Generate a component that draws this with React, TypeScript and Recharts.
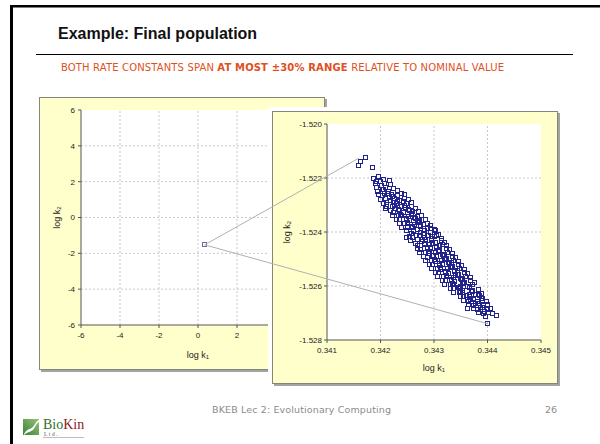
import React from 'react';
import { ScatterChart, Scatter, XAxis, YAxis, CartesianGrid, ReferenceLine, Label } from 'recharts';

// final population of the evolutionary search, [log k1, log k2]
const finalPopulation: [number, number][] = [
  [0.34159, -1.52154], [0.34163, -1.5214], [0.34172, -1.52127], [0.34186, -1.52164],
  [0.34188, -1.52202], [0.34197, -1.52197], [0.34206, -1.52208], [0.34193, -1.52214],
  [0.34191, -1.52221], [0.342, -1.52216], [0.34209, -1.52224], [0.34217, -1.52212], [0.34203, -1.52229],
  [0.34193, -1.52236], [0.34202, -1.52231], [0.34211, -1.52238], [0.3422, -1.52227], [0.34206, -1.52244], [0.34226, -1.5224],
  [0.34195, -1.52251], [0.34205, -1.52246], [0.34215, -1.52253], [0.34225, -1.52242], [0.34233, -1.52249], [0.34209, -1.52258], [0.34221, -1.52262],
  [0.34197, -1.52264], [0.34205, -1.52268], [0.34214, -1.52261], [0.34223, -1.5227], [0.34232, -1.52265], [0.3424, -1.52258], [0.34246, -1.52262], [0.34218, -1.52275],
  [0.34201, -1.52283], [0.3421, -1.52279], [0.34219, -1.52286], [0.34228, -1.52278], [0.34237, -1.52284], [0.34246, -1.52276], [0.34253, -1.52281], [0.34232, -1.5229],
  [0.34206, -1.52296], [0.34213, -1.52299], [0.34225, -1.52292], [0.34231, -1.52295], [0.34243, -1.5229], [0.34249, -1.52297], [0.34259, -1.52293], [0.34228, -1.52304], [0.34245, -1.52302],
  [0.34212, -1.52309],
  [0.34211, -1.52313], [0.34223, -1.52308], [0.34229, -1.52315], [0.34241, -1.52309], [0.34247, -1.52312], [0.34258, -1.52306], [0.34266, -1.52314], [0.34234, -1.5232], [0.34254, -1.52318],
  [0.34219, -1.52324], [0.34225, -1.52328], [0.34237, -1.52323], [0.34243, -1.5233], [0.34255, -1.52321], [0.34261, -1.52327], [0.34272, -1.52326], [0.34239, -1.52336], [0.34259, -1.52333],
  [0.34223, -1.52341], [0.34235, -1.52342], [0.34241, -1.52339], [0.34253, -1.52345], [0.34259, -1.52336], [0.34271, -1.52343], [0.34277, -1.52342], [0.34249, -1.52352], [0.34264, -1.52349],
  [0.3423, -1.52356], [0.34237, -1.52357], [0.34249, -1.52354], [0.34255, -1.52361], [0.34267, -1.52351], [0.34273, -1.52358], [0.34285, -1.52357], [0.34251, -1.52367], [0.34272, -1.52364],
  [0.34236, -1.52371], [0.34246, -1.52372], [0.34252, -1.52369], [0.34264, -1.52375], [0.3427, -1.52366], [0.34282, -1.52373], [0.34288, -1.52372], [0.3426, -1.52382], [0.34275, -1.52379], [0.34295, -1.52376],
  [0.3424, -1.52386], [0.34252, -1.52387], [0.34258, -1.52385], [0.3427, -1.52392], [0.34276, -1.52383], [0.34288, -1.52389], [0.34294, -1.52388], [0.34263, -1.52398], [0.34284, -1.52395], [0.34301, -1.52391],
  [0.34249, -1.52397], [0.34259, -1.52406], [0.34263, -1.52399], [0.34276, -1.52402], [0.34281, -1.52409], [0.34294, -1.52403], [0.34303, -1.52398], [0.34268, -1.52413], [0.3429, -1.52415], [0.34309, -1.52411],
  [0.3425, -1.52423],
  [0.34255, -1.52417], [0.34261, -1.52421], [0.34274, -1.52414], [0.34283, -1.52424], [0.34288, -1.52416], [0.34301, -1.52419], [0.34306, -1.52414], [0.34279, -1.52428], [0.34296, -1.52425], [0.34315, -1.52427],
  [0.34257, -1.52432], [0.3427, -1.52431], [0.34278, -1.52437], [0.34285, -1.52429], [0.34297, -1.52433], [0.34303, -1.52439], [0.34315, -1.52433], [0.34284, -1.52443], [0.34299, -1.52445], [0.3432, -1.52441],
  [0.34266, -1.52446], [0.34271, -1.52452], [0.34283, -1.52447], [0.34293, -1.52448], [0.34299, -1.52443], [0.34311, -1.52453], [0.34317, -1.52449], [0.34289, -1.52458], [0.34306, -1.52455], [0.34325, -1.52452],
  [0.3427, -1.52462], [0.34276, -1.52467], [0.34288, -1.52461], [0.34294, -1.52463], [0.34306, -1.52458], [0.34312, -1.52469], [0.34324, -1.52463], [0.34292, -1.52474], [0.34311, -1.5247], [0.3433, -1.52466],
  [0.34273, -1.52477], [0.34285, -1.52476], [0.34291, -1.52482], [0.34303, -1.52478], [0.34309, -1.52473], [0.34321, -1.52484], [0.34327, -1.52479], [0.34299, -1.52489], [0.34316, -1.52485], [0.34336, -1.52482],
  [0.34282, -1.52491], [0.34288, -1.52497], [0.343, -1.5249], [0.34306, -1.52492], [0.34318, -1.52488], [0.34324, -1.52499], [0.34336, -1.52493], [0.34302, -1.52504], [0.34323, -1.525], [0.34341, -1.52497],
  [0.34285, -1.52507], [0.34297, -1.52506], [0.34303, -1.52512], [0.34315, -1.52507], [0.3432, -1.52503], [0.34333, -1.52513], [0.34338, -1.52508], [0.34311, -1.52518], [0.34328, -1.52515], [0.34347, -1.52511],
  [0.34293, -1.52522], [0.34299, -1.52521], [0.34311, -1.52527], [0.34317, -1.52522], [0.34329, -1.52518], [0.34335, -1.52528], [0.34347, -1.52523], [0.34313, -1.52533], [0.34334, -1.5253], [0.34352, -1.52527],
  [0.34296, -1.52537], [0.34308, -1.52536], [0.34314, -1.52541], [0.34326, -1.52538], [0.34331, -1.52533], [0.34344, -1.52543], [0.34349, -1.52538], [0.34322, -1.52548], [0.34339, -1.52545], [0.34358, -1.52541],
  [0.34304, -1.52551], [0.3431, -1.52552], [0.34322, -1.5255], [0.34328, -1.52557], [0.3434, -1.52548], [0.34346, -1.52558], [0.34358, -1.52553], [0.34324, -1.52563], [0.34345, -1.5256], [0.34363, -1.52557],
  [0.34307, -1.52567], [0.34319, -1.52566], [0.34325, -1.52565], [0.34337, -1.52572], [0.34342, -1.52563], [0.34355, -1.52573], [0.3436, -1.52568], [0.34333, -1.52578], [0.3435, -1.52575], [0.34369, -1.52572],
  [0.34316, -1.52581], [0.34322, -1.52582], [0.34334, -1.5258], [0.3434, -1.52587], [0.34352, -1.52578], [0.34358, -1.52588], [0.3437, -1.52583], [0.34336, -1.52593], [0.34357, -1.5259], [0.34377, -1.5259],
  [0.3432, -1.52597], [0.34332, -1.52596], [0.34338, -1.52595], [0.3435, -1.52602], [0.34355, -1.52593], [0.34368, -1.52603], [0.34373, -1.52598], [0.34346, -1.52608], [0.34363, -1.52605],
  [0.34331, -1.52611], [0.34337, -1.52612], [0.34349, -1.5261], [0.34355, -1.52617], [0.34367, -1.52608], [0.34373, -1.52618], [0.34384, -1.52613], [0.3435, -1.52623], [0.34371, -1.5262],
  [0.34337, -1.52626], [0.34349, -1.52627], [0.34355, -1.52625], [0.34367, -1.52632], [0.34372, -1.52623], [0.34385, -1.52633], [0.3439, -1.52628], [0.34362, -1.52638], [0.34379, -1.52635],
  [0.3435, -1.52641], [0.34356, -1.52642], [0.34368, -1.5264], [0.34374, -1.52647], [0.34386, -1.52638], [0.34392, -1.52648], [0.34369, -1.52653], [0.34389, -1.5265],
  [0.34356, -1.52654], [0.34365, -1.52659], [0.34374, -1.52653], [0.34383, -1.5266], [0.34392, -1.52655], [0.34399, -1.52661], [0.34378, -1.52666],
  [0.34364, -1.52686],
  [0.34366, -1.52669], [0.34375, -1.52674], [0.34384, -1.52668], [0.34393, -1.52675], [0.34401, -1.5267], [0.34388, -1.52681],
  [0.34374, -1.52684], [0.34383, -1.52689], [0.34392, -1.52683], [0.34401, -1.5269], [0.34407, -1.52686], [0.34395, -1.52696],
  [0.34384, -1.527], [0.34393, -1.52704], [0.34402, -1.52699], [0.3441, -1.52705],
  [0.34417, -1.52711], [0.34398, -1.52716], [0.34401, -1.5274],
];

const overviewTicks = [-6, -4, -2, 0, 2, 4, 6];
const zoomK1Ticks = [0.341, 0.342, 0.343, 0.344, 0.345];
const zoomK2Ticks = [-1.528, -1.526, -1.524, -1.522, -1.52];

const points = finalPopulation.map(([k1, k2]) => ({ k1, k2 }));

const PANEL_W = 286;
const PANEL_H = 273;
const CHART_W = PANEL_W - 2;
const CHART_H = PANEL_H - 2;
const SANS = '"Liberation Sans", Arial, sans-serif';
const VERDANA = '"DejaVu Sans", Verdana, sans-serif';

type ChartBox = {
  x: number;
  y: number;
  margin: { top: number; right: number; bottom: number; left: number };
  yAxisW: number;
  xAxisH: number;
  k1: [number, number];
  k2: [number, number];
};

const overview: ChartBox = {
  x: 39, y: 97,
  margin: { top: 12, right: 9, bottom: 0, left: 0 },
  yAxisW: 41, xAxisH: 44,
  k1: [overviewTicks[0], overviewTicks[overviewTicks.length - 1]],
  k2: [overviewTicks[0], overviewTicks[overviewTicks.length - 1]],
};

const zoom: ChartBox = {
  x: 272, y: 111,
  margin: { top: 12, right: 16, bottom: 0, left: 0 },
  yAxisW: 54, xAxisH: 43,
  k1: [zoomK1Ticks[0], zoomK1Ticks[zoomK1Ticks.length - 1]],
  k2: [zoomK2Ticks[0], zoomK2Ticks[zoomK2Ticks.length - 1]],
};

// page position of a data point inside one of the two charts
function toPage(c: ChartBox, k1: number, k2: number) {
  const px = c.x + 1 + c.margin.left + c.yAxisW;
  const py = c.y + 1 + c.margin.top;
  const pw = CHART_W - c.margin.left - c.margin.right - c.yAxisW;
  const ph = CHART_H - c.margin.top - c.margin.bottom - c.xAxisH;
  return [
    px + ((k1 - c.k1[0]) / (c.k1[1] - c.k1[0])) * pw,
    py + ((c.k2[1] - k2) / (c.k2[1] - c.k2[0])) * ph,
  ];
}

const square = (color: string) => (props: any) => {
  const { cx, cy } = props;
  if (cx == null || cy == null) return <g />;
  return (
    <rect x={Math.round(cx) - 2.5} y={Math.round(cy) - 2.5} width={4} height={4} fill="none" stroke={color} strokeWidth={1} />
  );
};

const xTitle = (dy: number) => (props: any) => {
  const vb = props.viewBox || {};
  return (
    <text x={vb.x + vb.width / 2} y={vb.y + dy} textAnchor="middle" dominantBaseline="central" fontSize={9} fill="#222" fontFamily={SANS}>
      log k<tspan fontSize={6} dy={2}>1</tspan>
    </text>
  );
};

const yTitle = (cx: number) => (props: any) => {
  const vb = props.viewBox || {};
  const cy = vb.y + vb.height / 2;
  return (
    <text x={cx} y={cy} transform={`rotate(-90 ${cx} ${cy})`} textAnchor="middle" dominantBaseline="central" fontSize={9} fill="#222" fontFamily={SANS}>
      log k<tspan fontSize={6} dy={2}>2</tspan>
    </text>
  );
};

const tickStyle = { fontSize: 8, fill: '#222', fontFamily: SANS };

// overview labels that sit under the zoomed panel are not visible on the slide
const overviewK1Label = (v: number) => (toPage(overview, v, 0)[0] > zoom.x - 6 ? '' : String(v));

function Panel({ box, whiteFrame, children }: { box: ChartBox; whiteFrame?: boolean; children: React.ReactNode }) {
  return (
    <div
      style={{
        position: 'absolute',
        left: box.x,
        top: box.y,
        width: PANEL_W,
        height: PANEL_H,
        boxSizing: 'border-box',
        border: '1px solid #85857a',
        background: '#ffffcc',
        boxShadow: whiteFrame ? '2px 2px 0 #a3a3a3, 0 0 0 4px #ffffff' : '2px 2px 0 #a3a3a3',
      }}
    >
      {children}
    </div>
  );
}

export default function App() {
  const mean = finalPopulation.reduce((s, p) => [s[0] + p[0] / finalPopulation.length, s[1] + p[1] / finalPopulation.length], [0, 0]);
  const minK1 = Math.min(...finalPopulation.map((p) => p[0]));
  const maxK2 = Math.max(...finalPopulation.map((p) => p[1]));
  const lowest = finalPopulation.reduce((a, b) => (b[1] < a[1] ? b : a));

  const from = toPage(overview, mean[0], mean[1]);
  const toTop = toPage(zoom, minK1, maxK2);
  const toBottom = toPage(zoom, lowest[0], lowest[1]);

  return (
    <div style={{ position: 'absolute', left: 0, top: 0, width: 600, height: 444, background: '#fff', overflow: 'hidden' }}>
      <Panel box={overview}>
        <ScatterChart width={CHART_W} height={CHART_H} margin={overview.margin}>
          <CartesianGrid horizontal={false} vertical={false} fill="#ffffff" />
          {overviewTicks.slice(1, -1).map((v) => (
            <ReferenceLine key={`ox${v}`} x={v} stroke="#c8c8c8" strokeDasharray="2 2" />
          ))}
          {overviewTicks.slice(1, -1).map((v) => (
            <ReferenceLine key={`oy${v}`} y={v} stroke="#c8c8c8" strokeDasharray="2 2" />
          ))}
          <XAxis type="number" dataKey="k1" domain={overview.k1} ticks={overviewTicks} interval={0} height={overview.xAxisH}
            stroke="#555" tickSize={3} tickMargin={4} tick={tickStyle} tickFormatter={overviewK1Label}>
            <Label content={xTitle(30)} />
          </XAxis>
          <YAxis type="number" dataKey="k2" domain={overview.k2} ticks={overviewTicks} interval={0} width={overview.yAxisW}
            stroke="#555" tickSize={3} tickMargin={3} tick={tickStyle}>
            <Label content={yTitle(17)} />
          </YAxis>
          <Scatter data={points} shape={square('#6a6ab4')} isAnimationActive={false} />
        </ScatterChart>
      </Panel>

      <Panel box={zoom} whiteFrame>
        <ScatterChart width={CHART_W} height={CHART_H} margin={zoom.margin}>
          <CartesianGrid horizontal={false} vertical={false} fill="#ffffff" />
          {zoomK1Ticks.slice(1, -1).map((v) => (
            <ReferenceLine key={`zx${v}`} x={v} stroke="#c8c8c8" strokeDasharray="2 2" />
          ))}
          {zoomK2Ticks.slice(1, -1).map((v) => (
            <ReferenceLine key={`zy${v}`} y={v} stroke="#c8c8c8" strokeDasharray="2 2" />
          ))}
          <XAxis type="number" dataKey="k1" domain={zoom.k1} ticks={zoomK1Ticks} interval={0} height={zoom.xAxisH}
            stroke="#555" tickSize={3} tickMargin={4} tick={tickStyle} tickFormatter={(v: number) => v.toFixed(3)}>
            <Label content={xTitle(28)} />
          </XAxis>
          <YAxis type="number" dataKey="k2" domain={zoom.k2} ticks={zoomK2Ticks} interval={0} width={zoom.yAxisW}
            stroke="#555" tickSize={3} tickMargin={2} tick={tickStyle} tickFormatter={(v: number) => v.toFixed(3)}>
            <Label content={yTitle(14)} />
          </YAxis>
          <Scatter data={points} shape={square('#22228c')} isAnimationActive={false} />
        </ScatterChart>
      </Panel>

      <svg width={600} height={444} style={{ position: 'absolute', left: 0, top: 0, pointerEvents: 'none' }}>
        <defs>
          <linearGradient id="leaf" x1="0" y1="1" x2="1" y2="0">
            <stop offset="0" stopColor="#3f7f36" />
            <stop offset="1" stopColor="#93c57a" />
          </linearGradient>
        </defs>
        <rect x={10} y={5} width={590} height={2.5} fill="#000" />
        <rect x={10} y={5} width={3} height={439} fill="#000" />

        <text x={58} y={39} fontFamily={SANS} fontWeight="bold" fontSize={16} fill="#111">Example: Final population</text>
        <line x1={36} x2={573} y1={54.5} y2={54.5} stroke="#000" strokeWidth={1} />
        <text x={61} y={71} fontFamily={VERDANA} fontSize={10} fill="#e0501e" textLength={443} lengthAdjust="spacing">
          BOTH RATE CONSTANTS SPAN{' '}
          <tspan fontWeight="bold">AT MOST ±30% RANGE</tspan>
          {' '}RELATIVE TO NOMINAL VALUE
        </text>

        <line x1={from[0]} y1={from[1]} x2={toTop[0]} y2={toTop[1]} stroke="#b0b0b0" strokeWidth={1} />
        <line x1={from[0]} y1={from[1]} x2={toBottom[0]} y2={toBottom[1]} stroke="#b0b0b0" strokeWidth={1} />

        <text x={212} y={413} fontFamily={VERDANA} fontSize={9.5} fill="#8c8c8c" textLength={179} lengthAdjust="spacing">
          BKEB Lec 2: Evolutionary Computing
        </text>
        <text x={545} y={413} fontFamily={VERDANA} fontSize={9.5} fill="#8c8c8c">26</text>

        <rect x={23} y={419} width={16} height={16} fill="url(#leaf)" />
        <path d="M24,434 C28,427 31,431 35,424 C36,422 37,421 39,420 L39,422 C37,423 36,425 35,427 C32,433 28,431 24,435 Z" fill="#fff" />
        <text x={43} y={429} fontFamily='"Liberation Serif", "Times New Roman", serif' fontSize={14}>
          <tspan fill="#2f6f2a">Bio</tspan>
          <tspan fill="#8a1b1b">Kin</tspan>
        </text>
        <text x={44} y={436} fontFamily='"Liberation Serif", serif' fontSize={5.5} fill="#555" letterSpacing={1.5}>Ltd.</text>
        <line x1={43} x2={84} y1={437.5} y2={437.5} stroke="#bdbdbd" strokeWidth={1} />
      </svg>
    </div>
  );
}
